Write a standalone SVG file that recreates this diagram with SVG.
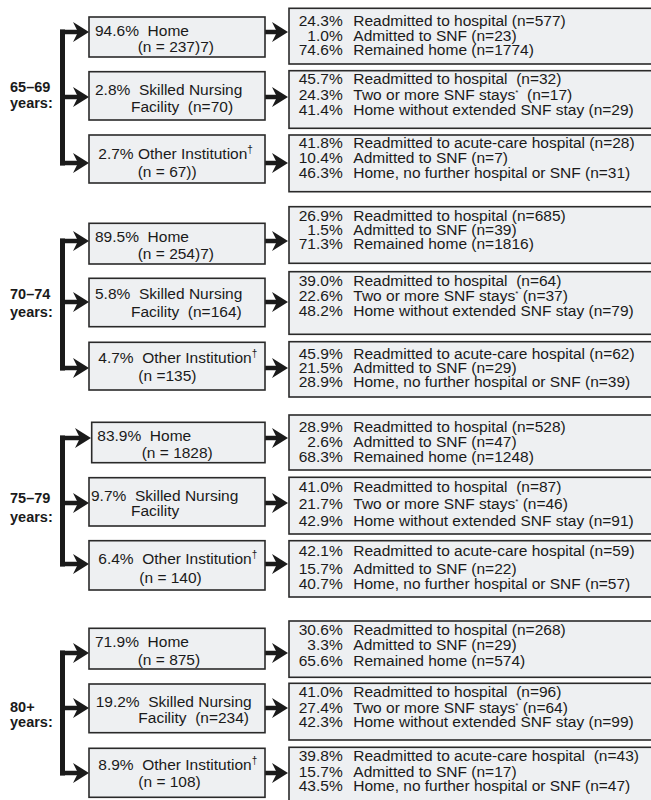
<svg xmlns="http://www.w3.org/2000/svg" width="651" height="800" viewBox="0 0 651 800">
<defs>
<marker id="ah" viewBox="0 0 16 20" refX="5" refY="10" markerWidth="16" markerHeight="20" markerUnits="userSpaceOnUse" orient="auto"><path d="M0,0 L16,10 L0,20 L5,10 z" fill="#1a1a1a"/></marker>
<style>
.box{fill:#eef0f2;stroke:#2a2a2a;stroke-width:1.6}
.t{font-family:"Liberation Sans",Arial,sans-serif;font-size:15.5px;fill:#1a1a1a;white-space:pre}
.p{font-family:"Liberation Sans",Arial,sans-serif;font-size:15.5px;fill:#1a1a1a;text-anchor:end;white-space:pre}
.lab{font-family:"Liberation Sans",Arial,sans-serif;font-size:14.5px;font-weight:bold;fill:#1a1a1a}
.sup{font-size:10px}
.ast{font-size:8px}
.c{stroke:#1a1a1a;stroke-width:4.5;fill:none}
.v{stroke:#1a1a1a;stroke-width:5;fill:none;stroke-linecap:square}
</style>
</defs>
<rect width="651" height="800" fill="#ffffff"/>

<g id="connectors">
<line class="v" x1="62.5" y1="32" x2="62.5" y2="163"/>
<line class="c" x1="60" y1="32" x2="78" y2="32" marker-end="url(#ah)"/>
<line class="c" x1="60" y1="97" x2="78" y2="97" marker-end="url(#ah)"/>
<line class="c" x1="60" y1="163" x2="78" y2="163" marker-end="url(#ah)"/>
<line class="c" x1="265" y1="32" x2="277" y2="32" marker-end="url(#ah)"/>
<line class="c" x1="265" y1="97" x2="277" y2="97" marker-end="url(#ah)"/>
<line class="c" x1="265" y1="163" x2="277" y2="163" marker-end="url(#ah)"/>
<line class="v" x1="62.5" y1="241" x2="62.5" y2="368"/>
<line class="c" x1="60" y1="241" x2="78" y2="241" marker-end="url(#ah)"/>
<line class="c" x1="60" y1="302" x2="78" y2="302" marker-end="url(#ah)"/>
<line class="c" x1="60" y1="368" x2="78" y2="368" marker-end="url(#ah)"/>
<line class="c" x1="257" y1="241" x2="277" y2="241" marker-end="url(#ah)"/>
<line class="c" x1="265" y1="302" x2="277" y2="302" marker-end="url(#ah)"/>
<line class="c" x1="265" y1="368" x2="277" y2="368" marker-end="url(#ah)"/>
<line class="v" x1="62.5" y1="438" x2="62.5" y2="564"/>
<line class="c" x1="60" y1="438" x2="80" y2="438" marker-end="url(#ah)"/>
<line class="c" x1="60" y1="503" x2="78" y2="503" marker-end="url(#ah)"/>
<line class="c" x1="60" y1="564" x2="78" y2="564" marker-end="url(#ah)"/>
<line class="c" x1="265" y1="438" x2="277" y2="438" marker-end="url(#ah)"/>
<line class="c" x1="265" y1="503" x2="277" y2="503" marker-end="url(#ah)"/>
<line class="c" x1="265" y1="564" x2="277" y2="564" marker-end="url(#ah)"/>
<line class="v" x1="62.5" y1="653" x2="62.5" y2="773"/>
<line class="c" x1="60" y1="653" x2="78" y2="653" marker-end="url(#ah)"/>
<line class="c" x1="60" y1="708" x2="78" y2="708" marker-end="url(#ah)"/>
<line class="c" x1="60" y1="773" x2="78" y2="773" marker-end="url(#ah)"/>
<line class="c" x1="265" y1="653" x2="277" y2="653" marker-end="url(#ah)"/>
<line class="c" x1="265" y1="708" x2="277" y2="708" marker-end="url(#ah)"/>
<line class="c" x1="265" y1="773" x2="277" y2="773" marker-end="url(#ah)"/>
</g>

<g id="age-65-69">
<text class="lab" x="10" y="91.5">65–69</text>
<text class="lab" x="10" y="108">years:</text>
</g>
<g id="n65-home">
<rect class="box" x="89" y="17" width="176" height="40"/>
<text class="t" x="95" y="36">94.6%  Home</text>
<text class="t" x="137.7" y="51.7">(n = 237)7)</text>
</g>
<g id="n65-snf">
<rect class="box" x="89" y="71.7" width="176" height="48.3"/>
<text class="t" x="95" y="95">2.8%  Skilled Nursing</text>
<text class="t" x="131" y="111.7">Facility  (n=70)</text>
</g>
<g id="n65-other">
<rect class="box" x="89" y="135" width="176" height="48"/>
<text class="t" x="98.3" y="159.3">2.7% Other Institution<tspan class="sup" dy="-6">†</tspan></text>
<text class="t" x="137.7" y="176.7">(n = 67))</text>
</g>
<g id="o65-home">
<rect class="box" x="289" y="8.3" width="380" height="55.7"/>
<text class="p" x="342.7" y="26">24.3%</text><text class="t" x="353.3" y="26">Readmitted to hospital (n=577)</text>
<text class="p" x="342.7" y="40.7">1.0%</text><text class="t" x="353.3" y="40.7">Admitted to SNF (n=23)</text>
<text class="p" x="342.7" y="55">74.6%</text><text class="t" x="353.3" y="55">Remained home (n=1774)</text>
</g>
<g id="o65-snf">
<rect class="box" x="289" y="70.7" width="380" height="57.6"/>
<text class="p" x="342.7" y="84">45.7%</text><text class="t" x="353.3" y="84">Readmitted to hospital  (n=32)</text>
<text class="p" x="342.7" y="99.5">24.3%</text><text class="t" x="353.3" y="99.5">Two or more SNF stays<tspan class="ast" dy="-5">*</tspan><tspan dy="5">  (n=17)</tspan></text>
<text class="p" x="342.7" y="115">41.4%</text><text class="t" x="353.3" y="115">Home without extended SNF stay (n=29)</text>
</g>
<g id="o65-other">
<rect class="box" x="289" y="135" width="380" height="56.7"/>
<text class="p" x="342.7" y="148.3">41.8%</text><text class="t" x="353.3" y="148.3">Readmitted to acute-care hospital (n=28)</text>
<text class="p" x="342.7" y="163.3">10.4%</text><text class="t" x="353.3" y="163.3">Admitted to SNF (n=7)</text>
<text class="p" x="342.7" y="177.7">46.3%</text><text class="t" x="353.3" y="177.7">Home, no further hospital or SNF (n=31)</text>
</g>

<g id="age-70-74">
<text class="lab" x="10" y="299">70–74</text>
<text class="lab" x="10" y="316.7">years:</text>
</g>
<g id="n70-home">
<rect class="box" x="89" y="223.3" width="176" height="40.7"/>
<text class="t" x="95" y="241.7">89.5%  Home</text>
<text class="t" x="137.7" y="259">(n = 254)7)</text>
</g>
<g id="n70-snf">
<rect class="box" x="89" y="278.3" width="176" height="48.4"/>
<text class="t" x="95" y="299">5.8%  Skilled Nursing</text>
<text class="t" x="131" y="316.7">Facility  (n=164)</text>
</g>
<g id="n70-other">
<rect class="box" x="89" y="342.3" width="176" height="47.7"/>
<text class="t" x="98.3" y="363.3">4.7%  Other Institution<tspan class="sup" dy="-6">†</tspan></text>
<text class="t" x="138.3" y="381">(n =135)</text>
</g>
<g id="o70-home">
<rect class="box" x="289" y="206.7" width="380" height="56.6"/>
<text class="p" x="342.7" y="221">26.9%</text><text class="t" x="353.3" y="221">Readmitted to hospital (n=685)</text>
<text class="p" x="342.7" y="235">1.5%</text><text class="t" x="353.3" y="235">Admitted to SNF (n=39)</text>
<text class="p" x="342.7" y="249.3">71.3%</text><text class="t" x="353.3" y="249.3">Remained home (n=1816)</text>
</g>
<g id="o70-snf">
<rect class="box" x="289" y="271.7" width="380" height="62.6"/>
<text class="p" x="342.7" y="285.7">39.0%</text><text class="t" x="353.3" y="285.7">Readmitted to hospital  (n=64)</text>
<text class="p" x="342.7" y="301">22.6%</text><text class="t" x="353.3" y="301">Two or more SNF stays<tspan class="ast" dy="-5">*</tspan><tspan dy="5"> (n=37)</tspan></text>
<text class="p" x="342.7" y="315.7">48.2%</text><text class="t" x="353.3" y="315.7">Home without extended SNF stay (n=79)</text>
</g>
<g id="o70-other">
<rect class="box" x="289" y="341.7" width="380" height="55.3"/>
<text class="p" x="342.7" y="359">45.9%</text><text class="t" x="353.3" y="359">Readmitted to acute-care hospital (n=62)</text>
<text class="p" x="342.7" y="373.3">21.5%</text><text class="t" x="353.3" y="373.3">Admitted to SNF (n=29)</text>
<text class="p" x="342.7" y="386.7">28.9%</text><text class="t" x="353.3" y="386.7">Home, no further hospital or SNF (n=39)</text>
</g>

<g id="age-75-79">
<text class="lab" x="10" y="503.3">75–79</text>
<text class="lab" x="10" y="521.7">years:</text>
</g>
<g id="n75-home">
<rect class="box" x="91.7" y="422.3" width="173.3" height="40.4"/>
<text class="t" x="97.3" y="440.7">83.9%  Home</text>
<text class="t" x="141.7" y="458.3">(n = 1828)</text>
</g>
<g id="n75-snf">
<rect class="box" x="89" y="477.7" width="176" height="48.3"/>
<text class="t" x="91" y="501">9.7%  Skilled Nursing</text>
<text class="t" x="131" y="516">Facility</text>
</g>
<g id="n75-other">
<rect class="box" x="89" y="540.7" width="176" height="49.3"/>
<text class="t" x="98.3" y="564">6.4%  Other Institution<tspan class="sup" dy="-6">†</tspan></text>
<text class="t" x="139.3" y="583.3">(n = 140)</text>
</g>
<g id="o75-home">
<rect class="box" x="289" y="415" width="380" height="55"/>
<text class="p" x="342.7" y="431.7">28.9%</text><text class="t" x="353.3" y="431.7">Readmitted to hospital (n=528)</text>
<text class="p" x="342.7" y="446.7">2.6%</text><text class="t" x="353.3" y="446.7">Admitted to SNF (n=47)</text>
<text class="p" x="342.7" y="461.7">68.3%</text><text class="t" x="353.3" y="461.7">Remained home (n=1248)</text>
</g>
<g id="o75-snf">
<rect class="box" x="289" y="477.3" width="380" height="56.7"/>
<text class="p" x="342.7" y="491.7">41.0%</text><text class="t" x="353.3" y="491.7">Readmitted to hospital  (n=87)</text>
<text class="p" x="342.7" y="509">21.7%</text><text class="t" x="353.3" y="509">Two or more SNF stays<tspan class="ast" dy="-5">*</tspan><tspan dy="5"> (n=46)</tspan></text>
<text class="p" x="342.7" y="526">42.9%</text><text class="t" x="353.3" y="526">Home without extended SNF stay (n=91)</text>
</g>
<g id="o75-other">
<rect class="box" x="289" y="540.7" width="380" height="56.3"/>
<text class="p" x="342.7" y="556">42.1%</text><text class="t" x="353.3" y="556">Readmitted to acute-care hospital (n=59)</text>
<text class="p" x="342.7" y="573.5">15.7%</text><text class="t" x="353.3" y="573.5">Admitted to SNF (n=22)</text>
<text class="p" x="342.7" y="589">40.7%</text><text class="t" x="353.3" y="589">Home, no further hospital or SNF (n=57)</text>
</g>

<g id="age-80">
<text class="lab" x="10" y="711.7">80+</text>
<text class="lab" x="10" y="726.7">years:</text>
</g>
<g id="n80-home">
<rect class="box" x="89" y="628.3" width="176" height="40.7"/>
<text class="t" x="95" y="646.7">71.9%  Home</text>
<text class="t" x="137.7" y="665">(n = 875)</text>
</g>
<g id="n80-snf">
<rect class="box" x="89" y="684" width="176" height="48.7"/>
<text class="t" x="95.7" y="706.7">19.2%  Skilled Nursing</text>
<text class="t" x="138.3" y="723.3">Facility  (n=234)</text>
</g>
<g id="n80-other">
<rect class="box" x="89" y="748.3" width="176" height="49"/>
<text class="t" x="98.3" y="770">8.9%  Other Institution<tspan class="sup" dy="-6">†</tspan></text>
<text class="t" x="138.3" y="786.7">(n = 108)</text>
</g>
<g id="o80-home">
<rect class="box" x="289" y="621" width="380" height="56.3"/>
<text class="p" x="342.7" y="635">30.6%</text><text class="t" x="353.3" y="635">Readmitted to hospital (n=268)</text>
<text class="p" x="342.7" y="650">3.3%</text><text class="t" x="353.3" y="650">Admitted to SNF (n=29)</text>
<text class="p" x="342.7" y="666">65.6%</text><text class="t" x="353.3" y="666">Remained home (n=574)</text>
</g>
<g id="o80-snf">
<rect class="box" x="289" y="683.3" width="380" height="56.7"/>
<text class="p" x="342.7" y="696.7">41.0%</text><text class="t" x="353.3" y="696.7">Readmitted to hospital  (n=96)</text>
<text class="p" x="342.7" y="712.7">27.4%</text><text class="t" x="353.3" y="712.7">Two or more SNF stays<tspan class="ast" dy="-5">*</tspan><tspan dy="5"> (n=64)</tspan></text>
<text class="p" x="342.7" y="727.3">42.3%</text><text class="t" x="353.3" y="727.3">Home without extended SNF stay (n=99)</text>
</g>
<g id="o80-other">
<rect class="box" x="289" y="747.3" width="380" height="60"/>
<text class="p" x="342.7" y="761">39.8%</text><text class="t" x="353.3" y="761">Readmitted to acute-care hospital  (n=43)</text>
<text class="p" x="342.7" y="776.7">15.7%</text><text class="t" x="353.3" y="776.7">Admitted to SNF (n=17)</text>
<text class="p" x="342.7" y="791">43.5%</text><text class="t" x="353.3" y="791">Home, no further hospital or SNF (n=47)</text>
</g>
</svg>
